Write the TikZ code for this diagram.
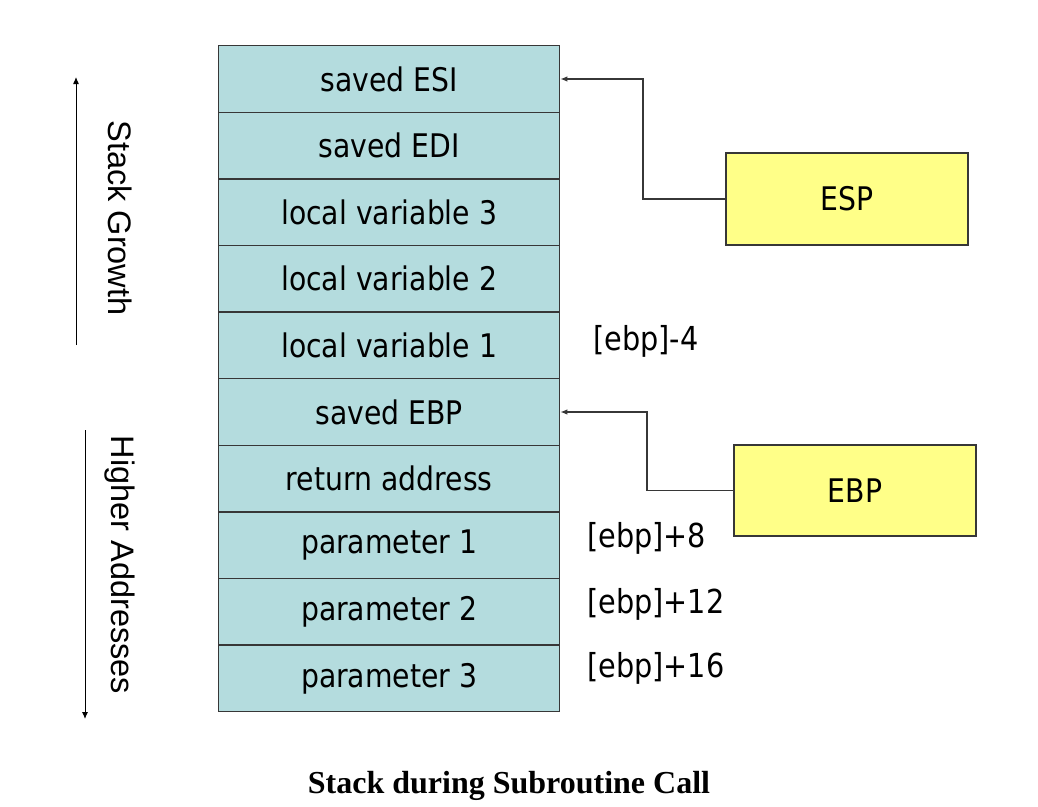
\documentclass[tikz,border=0pt]{standalone}
\usepackage{fontspec}
\setmainfont{DejaVu Sans}[FakeStretch=0.87]
\newfontfamily\sidefont{Liberation Sans}
\newfontfamily\capfont{Liberation Serif}
\usetikzlibrary{arrows.meta}
\definecolor{stackfill}{RGB}{180,220,222}
\definecolor{regfill}{RGB}{255,255,136}
\definecolor{edge}{RGB}{55,55,55}
\tikzset{
  cell/.style={draw=edge, line width=1.4pt, fill=stackfill, minimum width=341pt, minimum height=66.6pt, inner sep=0pt, font=\fontsize{32.5}{36}\selectfont, anchor=north west},
  reg/.style={draw=edge, line width=1.4pt, fill=regfill, inner sep=0pt, font=\fontsize{32.5}{36}\selectfont},
  offs/.style={inner sep=0pt, anchor=base west, font=\fontsize{33}{36}\selectfont},
  side/.style={inner sep=0pt, rotate=-90, font=\sidefont\fontsize{32.5}{36}\selectfont},
  ptr/.style={draw=edge, line width=1.1pt, -{Latex[length=7pt,width=5.5pt]}},
  dirarrow/.style={draw=black, line width=1pt, -{Latex[length=7pt,width=6pt]}}
}
\begin{document}
\begin{tikzpicture}[x=1pt,y=-1pt]
\useasboundingbox (0,0) rectangle (1038,806);
\fill[white] (0,0) rectangle (1038,806);
% stack cells
\node[cell] (c1) at (218,45) {saved ESI};
\node[cell] (c2) at (218,111.6) {saved EDI};
\node[cell] (c3) at (218,178.2) {local variable 3};
\node[cell] (c4) at (218,244.8) {local variable 2};
\node[cell] (c5) at (218,311.4) {local variable 1};
\node[cell] (c6) at (218,378) {saved EBP};
\node[cell] (c7) at (218,444.6) {return address};
\node[cell] (c8) at (218,511.2) {parameter 1};
\node[cell] (c9) at (218,577.8) {parameter 2};
\node[cell] (c10) at (218,644.4) {parameter 3};
% registers
\node[reg, minimum width=242pt, minimum height=92pt] (esp) at (847,199) {ESP};
\node[reg, minimum width=242pt, minimum height=91pt] (ebp) at (855,490.5) {EBP};
% pointers
\draw[ptr] (esp.west) -- (643,199) |- (c1.east);
\draw[ptr] (ebp.west) -- (647,490.5) |- (c6.east);
% offsets
\node[offs] (o1) at (593,350) {[ebp]-4};
\node[offs] (o2) at (587,547) {[ebp]+8};
\node[offs] (o3) at (587,613) {[ebp]+12};
\node[offs] (o4) at (587,677) {[ebp]+16};
% direction arrows
\coordinate (g0) at (76,345);
\coordinate (g1) at (76,77);
\draw[dirarrow] (g0) -- (g1);
\coordinate (h0) at (85,430);
\coordinate (h1) at (85,719);
\draw[dirarrow] (h0) -- (h1);
\node[side] (sg) at (120,218) {Stack Growth};
\node[side] (ha) at (120,565) {Higher Addresses};
% caption
\node[inner sep=0pt, anchor=base, font=\capfont\bfseries\fontsize{32}{36}\selectfont] (cap) at (509,793) {Stack during Subroutine Call};
\end{tikzpicture}
\end{document}
